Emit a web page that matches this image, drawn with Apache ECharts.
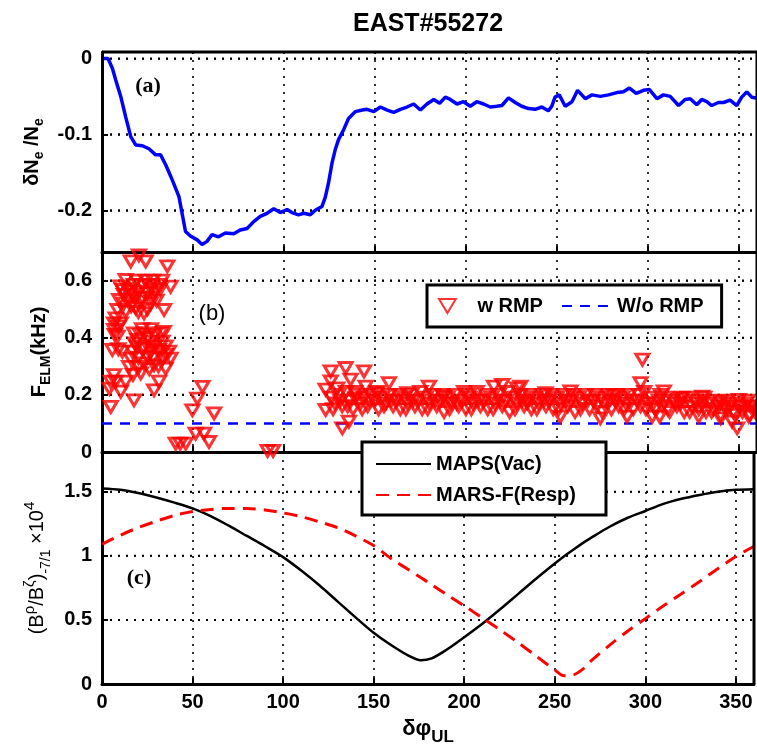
<!DOCTYPE html>
<html>
<head>
<meta charset="utf-8">
<script src="https://cdn.jsdelivr.net/npm/echarts@6/dist/echarts.min.js"></script>
<style>
html, body { margin: 0; padding: 0; background: #fff; }
#chart { width: 757px; height: 749px; }
</style>
</head>
<body>
<div id="chart"></div>
<script>
// (a) density change vs phase difference
var phiA = [1, 3.3, 5.7, 7.5, 10.3, 13, 15.8, 18.5, 22.2, 25.8, 29.5, 32.2, 35, 38.6, 42.3, 44, 45.9, 48.6, 52.3, 55,
  57.7, 60.5, 64, 67.8, 72.4, 76, 79.7, 83.4, 87, 90.7, 94.4, 98, 101.7, 104.4, 108, 110.9, 114.5, 117.2, 120.9, 122.7,
  124.5, 126.4, 128.2, 130, 132.8, 135.5, 139.3, 143, 145.7, 149.4, 153, 156.7, 160.3, 164, 167.6, 171.3, 175, 178.6, 182.3, 185.6,
  188.7, 191.4, 195.1, 198.7, 202.4, 206, 209.7, 213.4, 217, 219.8, 223.4, 227.1, 230.7, 234.4, 238, 241.7, 245.3, 247.2, 249, 251.3,
  254.6, 258.3, 261.4, 265.6, 269.3, 273.9, 278.4, 283, 286.6, 289.9, 293.6, 297.6, 300.9, 305, 308.6, 312.3, 316.9, 320.5, 323.3, 326.9,
  329.6, 332.4, 335.1, 338.8, 341.6, 345.2, 348.9, 351.6, 354.4, 357.1, 359.5];
var dNe = [0, 0, -0.013, -0.028, -0.05, -0.077, -0.103, -0.114, -0.115, -0.119, -0.127, -0.127, -0.14, -0.16, -0.182, -0.204, -0.228, -0.234, -0.239, -0.245,
  -0.241, -0.232, -0.235, -0.23, -0.231, -0.226, -0.224, -0.215, -0.208, -0.204, -0.198, -0.203, -0.199, -0.203, -0.206, -0.204, -0.206, -0.2, -0.195, -0.183,
  -0.164, -0.138, -0.12, -0.107, -0.094, -0.079, -0.07, -0.068, -0.067, -0.07, -0.064, -0.068, -0.071, -0.067, -0.064, -0.06, -0.068, -0.06, -0.054, -0.059,
  -0.051, -0.054, -0.06, -0.057, -0.063, -0.057, -0.06, -0.064, -0.063, -0.062, -0.052, -0.058, -0.063, -0.066, -0.067, -0.064, -0.069, -0.063, -0.051, -0.048,
  -0.063, -0.057, -0.042, -0.053, -0.048, -0.05, -0.048, -0.045, -0.044, -0.039, -0.046, -0.042, -0.041, -0.053, -0.048, -0.05, -0.062, -0.054, -0.053, -0.061,
  -0.054, -0.057, -0.062, -0.058, -0.058, -0.055, -0.062, -0.051, -0.044, -0.051, -0.052];

// (b) ELM frequency, early phase (0-100 deg)
var elmEarlyPhi = [15.8, 20.3, 24, 35.9, 13, 17.6, 22.2, 26.8, 31.3, 37.7, 11.2, 15.8, 20.3, 24.9, 29.5, 9.4, 14.9, 21.3, 26.8, 8.5,
  13, 18.5, 23.1, 34.1, 7.5, 6.6, 10.3, 6.6, 8.5, 17.6, 23.1, 32.3, 19.4, 26.8, 33.2, 5.7, 11.2, 16.7, 23.1, 26.8,
  31.3, 36.8, 15.8, 24.9, 33.2, 37.7, 14.9, 20.3, 28.6, 35, 21.3, 6.6, 4.8, 7.5, 13, 31.3, 4.1, 10.3, 28.6, 17.6,
  4.8, 28, 33, 18, 12, 30, 22, 27, 29, 19, 9, 35,
  10, 14, 19, 24, 27, 32, 12, 17, 22, 27, 16, 20, 25, 9, 7, 21, 25, 29, 34, 18,
  22, 27, 32, 35, 20, 28, 23, 31, 26, 17,
  55.2, 52.4, 49.7, 61.6, 51.5, 56.1, 58.8, 40.5, 46, 43, 91, 94];
var elmEarlyF = [0.667, 0.688, 0.667, 0.65, 0.602, 0.585, 0.585, 0.585, 0.585, 0.579, 0.567, 0.561, 0.561, 0.556, 0.561, 0.532, 0.532, 0.526, 0.52, 0.497,
  0.491, 0.503, 0.485, 0.497, 0.468, 0.45, 0.45, 0.427, 0.404, 0.415, 0.415, 0.415, 0.392, 0.386, 0.386, 0.357, 0.351, 0.351, 0.363, 0.351,
  0.357, 0.351, 0.327, 0.333, 0.327, 0.327, 0.298, 0.298, 0.304, 0.292, 0.275, 0.269, 0.246, 0.246, 0.246, 0.246, 0.222, 0.211, 0.216, 0.181,
  0.158, 0.6, 0.6, 0.54, 0.52, 0.53, 0.43, 0.43, 0.37, 0.37, 0.36, 0.37,
  0.58, 0.57, 0.6, 0.6, 0.57, 0.57, 0.55, 0.55, 0.54, 0.54, 0.51, 0.49, 0.5, 0.44, 0.41, 0.41, 0.4, 0.41, 0.42, 0.38,
  0.36, 0.37, 0.35, 0.34, 0.33, 0.33, 0.31, 0.3, 0.29, 0.27,
  0.228, 0.187, 0.146, 0.135, 0.064, 0.064, 0.035, 0.029, 0.029, 0.029, 0.004, 0.004];

// (b) ELM frequency, late phase (120-360 deg)
var elmLatePhi = [125.7, 133.9, 144, 125.7, 136.6, 122.9, 129.3, 144.9, 157.7, 179.7, 167.8, 122.9, 135.7, 132.1, 139.3, 151.3, 215.4, 220, 228.2, 201.6,
  187.9, 297, 296, 243.8, 257.5, 281.3, 308.8, 318, 329.9, 340, 350, 356.4, 302.4, 306.5, 328, 349.1, 346.3, 340, 355.5, 230,
  233.7, 251.9, 273.9, 288.6,
  126, 128, 130, 132, 134, 136, 138, 140, 142, 144, 146, 148, 150, 152, 154, 156, 158, 160, 162, 164,
  166, 168, 170, 172, 174, 176, 178, 180, 182, 184, 186, 188, 190, 192, 194, 196, 198, 200, 202, 204,
  206, 208, 210, 212, 214, 216, 218, 220, 222, 224, 226, 228, 230, 232, 234, 236, 238, 240, 242, 244,
  246, 248, 250, 252, 254, 256, 258, 260, 262, 264, 266, 268, 270, 272, 274, 276, 278, 280, 282, 284,
  286, 288, 290, 292, 294, 296, 298, 300, 302, 304, 306, 308, 310, 312, 314, 316, 318, 320, 322, 324,
  326, 328, 330, 332, 334, 336, 338, 340, 342, 344, 346, 348, 350, 352, 354, 356, 358, 360,
  127, 131, 135, 139, 143, 147, 151, 155, 159, 163, 167, 171, 175, 179, 183, 187, 191, 195, 199, 203,
  207, 211, 215, 219, 223, 227, 231, 235, 239, 243, 247, 251, 255, 259, 263, 267, 271, 275, 279, 283,
  287, 291, 295, 299, 303, 307, 311, 315, 319, 323, 327, 331, 335, 339, 343, 347, 351, 355, 359];
var elmLateF = [0.282, 0.294, 0.282, 0.247, 0.253, 0.218, 0.223, 0.229, 0.241, 0.229, 0.206, 0.147, 0.106, 0.083, 0.188, 0.206, 0.229, 0.235, 0.223, 0.2,
  0.194, 0.323, 0.241, 0.206, 0.212, 0.2, 0.212, 0.188, 0.194, 0.177, 0.182, 0.159, 0.124, 0.124, 0.124, 0.083, 0.106, 0.118, 0.124, 0.229,
  0.171, 0.124, 0.118, 0.124,
  0.19, 0.17, 0.2, 0.16, 0.21, 0.18, 0.15, 0.2, 0.17, 0.19, 0.16, 0.2, 0.18, 0.15, 0.19, 0.17, 0.2, 0.16, 0.18, 0.15,
  0.19, 0.17, 0.2, 0.16, 0.18, 0.15, 0.19, 0.17, 0.2, 0.16, 0.18, 0.14, 0.19, 0.17, 0.2, 0.16, 0.18, 0.15, 0.19, 0.17,
  0.21, 0.16, 0.18, 0.15, 0.19, 0.17, 0.2, 0.16, 0.18, 0.14, 0.19, 0.17, 0.2, 0.16, 0.18, 0.15, 0.19, 0.17, 0.2, 0.16,
  0.18, 0.15, 0.19, 0.17, 0.2, 0.16, 0.18, 0.14, 0.19, 0.17, 0.2, 0.15, 0.18, 0.16, 0.19, 0.17, 0.2, 0.15, 0.18, 0.16,
  0.19, 0.17, 0.2, 0.15, 0.18, 0.16, 0.21, 0.17, 0.19, 0.15, 0.18, 0.16, 0.19, 0.14, 0.18, 0.16, 0.17, 0.14, 0.19, 0.16,
  0.18, 0.15, 0.17, 0.14, 0.18, 0.15, 0.17, 0.13, 0.16, 0.15, 0.17, 0.13, 0.16, 0.14, 0.17, 0.13, 0.16, 0.15,
  0.15, 0.18, 0.16, 0.21, 0.15, 0.18, 0.21, 0.16, 0.18, 0.2, 0.15, 0.18, 0.21, 0.15, 0.18, 0.2, 0.15, 0.17, 0.21, 0.15,
  0.18, 0.2, 0.15, 0.18, 0.21, 0.15, 0.18, 0.2, 0.15, 0.18, 0.2, 0.15, 0.18, 0.2, 0.15, 0.18, 0.2, 0.14, 0.18, 0.2,
  0.15, 0.18, 0.2, 0.15, 0.17, 0.2, 0.15, 0.17, 0.19, 0.14, 0.17, 0.19, 0.14, 0.16, 0.18, 0.14, 0.16, 0.18, 0.14];

// reference level without RMP (kHz)
var woRmpPhi = [0, 360];
var woRmpF = [0.1, 0.1];

// (c) resonant field component
var phiC = [0, 10, 20, 30, 40, 50, 60, 70, 80, 90, 100, 110, 120, 130, 140, 150, 160, 170, 176, 182,
  190, 200, 210, 220, 230, 240, 250, 255, 260, 265, 270, 280, 290, 300, 310, 320, 330, 340, 350, 360];
var mapsVac = [1.525, 1.515, 1.49, 1.455, 1.415, 1.37, 1.31, 1.235, 1.155, 1.075, 0.99, 0.885, 0.77, 0.645, 0.52, 0.4, 0.3, 0.215, 0.185, 0.2,
  0.265, 0.365, 0.47, 0.585, 0.705, 0.825, 0.94, 0.995, 1.045, 1.095, 1.14, 1.225, 1.295, 1.35, 1.405, 1.445, 1.475, 1.5, 1.515, 1.52];
var marsResp = [1.09, 1.16, 1.22, 1.27, 1.315, 1.345, 1.362, 1.37, 1.37, 1.358, 1.335, 1.305, 1.265, 1.22, 1.155, 1.08, 0.975, 0.885, 0.83, 0.775,
  0.7, 0.61, 0.515, 0.42, 0.32, 0.215, 0.11, 0.065, 0.07, 0.11, 0.18, 0.3, 0.41, 0.51, 0.61, 0.705, 0.8, 0.9, 0.995, 1.075];

// y tick values of the three panels
var ticksA = [-0.2, -0.1, 0];
var ticksB = [0.2, 0.4, 0.6];
var ticksC = [0.5, 1, 1.5];

var FONT = 'Liberation Sans';
var TRI = 'path://M0,0L12,0L6,10Z';

function pairs(xs, ys) {
  return xs.map(function (x, i) { return [x, ys[i]]; });
}

var yRanges = [
  { min: -0.255, max: 0.0085, step: 0.1, ticks: ticksA },
  { min: 0, max: 0.7, step: 0.2, ticks: ticksB },
  { min: 0, max: 1.81, step: 0.5, ticks: ticksC }
];

function stepLabel(step) {
  return function (v) {
    var r = Math.round(v / step) * step;
    if (Math.abs(v - r) > 1e-6) return '';
    return String(+r.toFixed(2));
  };
}
function tickStyle() {
  return { show: true, inside: true, length: 6, lineStyle: { color: '#000', width: 2 } };
}
function frame() {
  return { show: true, onZero: false, lineStyle: { color: '#000', width: 3 } };
}
function dotted() {
  return { show: true, lineStyle: { color: '#000', width: 1.6, type: [2, 6] } };
}
function labelStyle(show, margin, step) {
  return { show: show, margin: margin, color: '#000', fontFamily: FONT, fontWeight: 'bold', fontSize: 20,
    formatter: stepLabel(step) };
}

var xAxes = [], yAxes = [];
for (var g = 0; g < 3; g++) {
  var r = yRanges[g];
  xAxes.push({
    type: 'value', gridIndex: g, min: 0, max: 360, interval: 50,
    axisLine: frame(), axisTick: tickStyle(),
    axisLabel: labelStyle(g === 2, 8, 50),
    splitLine: dotted()
  });
  var ya = {
    type: 'value', gridIndex: g, min: r.min, max: r.max,
    axisLine: frame(), axisTick: tickStyle(),
    axisLabel: labelStyle(true, 10, r.step),
    splitLine: dotted()
  };
  if (r.min % r.step === 0) ya.interval = r.step;
  else { ya.minInterval = r.step; ya.maxInterval = r.step; }
  yAxes.push(ya);
}

// axis titles
xAxes[2].name = '{t|δφ}{s|UL}';
xAxes[2].nameLocation = 'middle';
xAxes[2].nameGap = 32;
xAxes[2].nameTextStyle = { rich: {
  t: { fontFamily: FONT, fontWeight: 'bold', fontSize: 22, lineHeight: 24, color: '#000' },
  s: { fontFamily: FONT, fontWeight: 'bold', fontSize: 17, lineHeight: 17, padding: [16, 0, 0, 0], color: '#000' }
} };

var boldRich = {
  t: { fontFamily: FONT, fontWeight: 'bold', fontSize: 20, lineHeight: 22, color: '#000' },
  s: { fontFamily: FONT, fontWeight: 'bold', fontSize: 14, lineHeight: 14, padding: [14, 0, 0, 0], color: '#000' }
};
yAxes[0].name = '{t|δN}{s|e}{t| /N}{s|e}';
yAxes[0].nameLocation = 'middle';
yAxes[0].nameRotate = 90;
yAxes[0].nameGap = 58;
yAxes[0].nameTextStyle = { rich: boldRich };

yAxes[1].name = '{t|F}{s|ELM}{t|(kHz)}';
yAxes[1].nameLocation = 'middle';
yAxes[1].nameRotate = 90;
yAxes[1].nameGap = 50;
yAxes[1].nameTextStyle = { rich: boldRich };

yAxes[2].name = '{t|(B}{p|ρ}{t|/B}{p|ζ}{t|)}{s|-7/1}{t| ×10}{p|4}';
yAxes[2].nameLocation = 'middle';
yAxes[2].nameRotate = 90;
yAxes[2].nameGap = 44;
yAxes[2].nameTextStyle = { rich: {
  t: { fontFamily: FONT, fontSize: 20, lineHeight: 22, color: '#000' },
  s: { fontFamily: FONT, fontSize: 14, lineHeight: 14, padding: [16, 0, 0, 0], color: '#000' },
  p: { fontFamily: FONT, fontSize: 15, lineHeight: 15, padding: [0, 0, 16, 0], color: '#000' }
} };

// horizontal dotted grid lines and the top/right box edges, as plain line series
var helperSeries = [];
[ticksA, ticksB, ticksC].forEach(function (ticks, gi) {
  ticks.forEach(function (v) {
    helperSeries.push({
      type: 'line', xAxisIndex: gi, yAxisIndex: gi, symbol: 'none',
      data: [[0, v], [360, v]],
      lineStyle: { color: '#000', width: 2, type: [2, 6] }
    });
  });
  var rg = yRanges[gi];
  helperSeries.push({
    type: 'line', xAxisIndex: gi, yAxisIndex: gi, symbol: 'none', clip: false, z: 4,
    data: [[360, rg.min], [360, rg.max]],
    lineStyle: { color: '#000', width: 3 }
  });
});
helperSeries.push({
  type: 'line', xAxisIndex: 0, yAxisIndex: 0, symbol: 'none', clip: false, z: 4,
  data: [[0, yRanges[0].max], [360, yRanges[0].max]],
  lineStyle: { color: '#000', width: 3 }
});

var option = {
  animation: false,
  grid: [
    { left: 102, top: 52, width: 655, height: 200 },
    { left: 102, top: 252, width: 655, height: 200 },
    { left: 102, top: 452, width: 655, height: 232 }
  ],
  xAxis: xAxes,
  yAxis: yAxes,
  legend: [
    {
      data: ['w RMP', { name: 'W/o RMP', itemStyle: { opacity: 0 } }],
      orient: 'horizontal', left: 427, top: 285,
      itemWidth: 50, itemHeight: 14, itemGap: 18,
      padding: [11, 18, 11, 11],
      backgroundColor: '#fff', borderColor: '#000', borderWidth: 3, borderRadius: 0,
      textStyle: { color: '#000', fontFamily: FONT, fontWeight: 'bold', fontSize: 20 }
    },
    {
      data: [{ name: 'MAPS(Vac)', itemStyle: { opacity: 0 } }, { name: 'MARS-F(Resp)', itemStyle: { opacity: 0 } }],
      orient: 'vertical', left: 362, top: 442,
      itemWidth: 55, itemHeight: 14, itemGap: 11,
      padding: [12, 30, 10, 13],
      backgroundColor: '#fff', borderColor: '#000', borderWidth: 3, borderRadius: 0,
      textStyle: { color: '#000', fontFamily: FONT, fontWeight: 'bold', fontSize: 20 }
    }
  ],
  graphic: [
    { type: 'text', x: 428, y: 24, style: { text: 'EAST#55272', align: 'center', verticalAlign: 'middle',
      font: 'bold 25px "Liberation Sans"', fill: '#000' } },
    { type: 'text', x: 148, y: 86, style: { text: '(a)', align: 'center', verticalAlign: 'middle',
      font: 'bold 22px "Liberation Serif"', fill: '#000' } },
    { type: 'text', x: 212, y: 314, style: { text: '(b)', align: 'center', verticalAlign: 'middle',
      font: '22px "Liberation Sans"', fill: '#000' } },
    { type: 'text', x: 139, y: 578, style: { text: '(c)', align: 'center', verticalAlign: 'middle',
      font: 'bold 22px "Liberation Serif"', fill: '#000' } }
  ],
  series: helperSeries.concat([
    {
      name: 'dNe', type: 'line', xAxisIndex: 0, yAxisIndex: 0, z: 3,
      data: pairs(phiA, dNe), symbol: 'none',
      lineStyle: { color: '#0000ff', width: 3.5 }
    },
    {
      name: 'w RMP', type: 'scatter', xAxisIndex: 1, yAxisIndex: 1, z: 3,
      data: pairs(elmEarlyPhi, elmEarlyF).concat(pairs(elmLatePhi, elmLateF)),
      symbol: TRI, symbolSize: [13, 11], clip: false,
      itemStyle: { color: 'rgba(0,0,0,0)', borderColor: '#ff0000', borderWidth: 3 }
    },
    {
      name: 'W/o RMP', type: 'line', xAxisIndex: 1, yAxisIndex: 1, z: 3,
      data: pairs(woRmpPhi, woRmpF), symbol: 'none',
      lineStyle: { color: '#0000ff', width: 2.5, type: [10, 8] },
      itemStyle: { color: '#0000ff' }
    },
    {
      name: 'MAPS(Vac)', type: 'line', xAxisIndex: 2, yAxisIndex: 2, z: 3,
      data: pairs(phiC, mapsVac), symbol: 'none', smooth: 0.3,
      lineStyle: { color: '#000', width: 2.5 },
      itemStyle: { color: '#000' }
    },
    {
      name: 'MARS-F(Resp)', type: 'line', xAxisIndex: 2, yAxisIndex: 2, z: 3,
      data: pairs(phiC, marsResp), symbol: 'none', smooth: 0.3,
      lineStyle: { color: '#ff0000', width: 3, type: [13, 8] },
      itemStyle: { color: '#ff0000' }
    }
  ])
};

var chart = echarts.init(document.getElementById('chart'));
chart.setOption(option);
</script>
</body>
</html>
